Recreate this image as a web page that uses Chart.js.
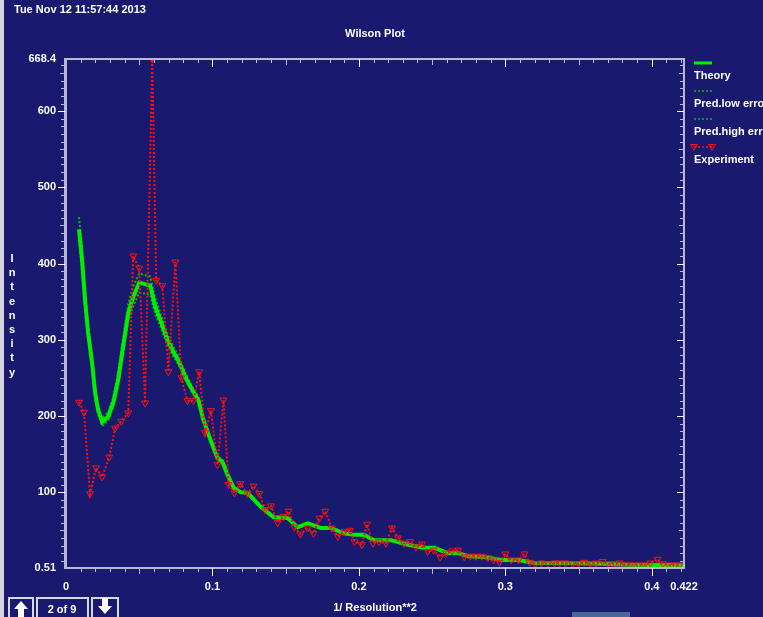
<!DOCTYPE html>
<html>
<head>
<meta charset="utf-8">
<title>Wilson Plot</title>
<script src="https://cdn.jsdelivr.net/npm/chart.js@4.4.0/dist/chart.umd.min.js"></script>
<style>
  html, body { margin: 0; padding: 0; background: #191970; overflow: hidden; }
  #wrap { position: relative; width: 763px; height: 617px; }
</style>
</head>
<body>
<div id="wrap"><canvas id="wilson" width="763" height="617"></canvas></div>
<script>
// data
const theoryX = [0.0089, 0.011, 0.013, 0.0151, 0.0178, 0.0199, 0.0219, 0.0247, 0.0288, 0.0322,
  0.0356, 0.039, 0.0425, 0.0459, 0.05, 0.0575, 0.061, 0.0644, 0.0692, 0.0733,
  0.0767, 0.0815, 0.0863, 0.0904, 0.0938, 0.0986, 0.1034, 0.1068, 0.1103, 0.1144,
  0.1192, 0.124, 0.1329, 0.1418, 0.1514, 0.1582, 0.1651, 0.174, 0.1808, 0.1897,
  0.1966, 0.2034, 0.2103, 0.2219, 0.2336, 0.2445, 0.2514, 0.261, 0.2678, 0.2747,
  0.2856, 0.2973, 0.3089, 0.3199, 0.3432, 0.3658, 0.3884, 0.4116, 0.4219];
const theory = [445, 404, 352, 309, 270, 230, 208, 192, 199, 217,
  247, 291, 335, 356, 375, 371, 343, 326, 300, 284,
  273, 251, 234, 221, 195, 169, 145, 140, 123, 106,
  100, 99, 81, 67, 66, 54, 59, 53, 53, 46,
  44, 44, 37, 37, 31, 27, 27, 20, 20, 16,
  15, 11, 11, 7, 7, 6, 4.5, 4.5, 4];
const predHigh = [461, 418, 364, 319, 279, 238, 214, 197, 205, 224,
  256, 302, 347, 370, 387, 383, 354, 335, 308, 291,
  279, 256, 238, 225, 198, 172, 147, 142, 125, 108,
  101, 100, 82, 68, 67, 55, 60, 54, 54, 47,
  45, 45, 38, 38, 32, 28, 28, 21, 21, 16.5,
  15.5, 11.5, 11.5, 7.3, 7.3, 6.2, 4.7, 4.7, 4.2];
const predLow = [431, 391, 341, 300, 262, 223, 202, 187, 194, 211,
  239, 281, 324, 344, 362, 359, 333, 318, 293, 278,
  268, 247, 230, 218, 192, 166, 143, 138, 121, 104,
  99, 98, 80, 66, 65, 53, 58, 52, 52, 45,
  43, 43, 36, 36, 30, 26, 26, 19, 19, 15.5,
  14.5, 10.5, 10.5, 6.7, 6.7, 5.8, 4.3, 4.3, 3.8];

const expX = [0.0089, 0.0123, 0.0164, 0.0205, 0.0247, 0.0295, 0.0336, 0.0377, 0.0425, 0.0459,
  0.050, 0.054, 0.0589, 0.0616, 0.0658, 0.0699, 0.0747, 0.0788, 0.0829, 0.087,
  0.091, 0.095, 0.099, 0.1034, 0.1075, 0.111, 0.115, 0.119, 0.124, 0.128,
  0.132, 0.136, 0.140, 0.1445, 0.1486, 0.152, 0.156, 0.160, 0.165, 0.169,
  0.173, 0.177, 0.1815, 0.1856, 0.190, 0.194, 0.197, 0.202, 0.2055, 0.2096,
  0.2137, 0.2185, 0.2226, 0.2267, 0.2308, 0.235, 0.239, 0.243, 0.247, 0.251,
  0.2555, 0.2596, 0.2637, 0.2678, 0.272, 0.276, 0.280, 0.284, 0.288, 0.292,
  0.296, 0.300, 0.304, 0.309, 0.313, 0.3165, 0.3205, 0.3247, 0.329, 0.3336,
  0.337, 0.341, 0.346, 0.350, 0.354, 0.358, 0.362, 0.3664, 0.3705, 0.3747,
  0.378, 0.382, 0.387, 0.391, 0.395, 0.399, 0.404, 0.4075, 0.4116, 0.4158, 0.419];
const experiment = [218, 205, 98, 132, 120, 146, 184, 193, 204, 410,
  394, 217, 668.4, 378, 371, 258, 402, 250, 220, 220,
  258, 178, 207, 136, 221, 110, 99, 111, 98, 108,
  98, 77, 82, 60, 68, 75, 54, 45, 53, 46,
  66, 75, 53, 42, 48, 50, 35, 31, 58, 33,
  35, 33, 53, 40, 33, 35, 28, 32, 22, 24,
  15, 20, 23, 24, 15, 16, 16, 16, 14, 11,
  8, 19, 11, 11, 19, 8, 6, 7, 6, 7,
  7, 7, 6, 6, 8, 6, 7, 9, 6, 6,
  7, 4.5, 4.5, 4.5, 4.5, 7, 12, 6, 4.5, 4.5, 4.5];

const seriesNames = ['Theory', 'Pred.low error', 'Pred.high error', 'Experiment'];
const xTicks = [0, 0.1, 0.2, 0.3, 0.4, 0.422];
const yTicks = [0.51, 100, 200, 300, 400, 500, 600, 668.4];

const BG = '#191970';
const FRAME = '#b8b8d4';
const GREEN = '#00ee00';
const GREEN_DOT = '#00c000';
const RED = '#ff1010';
const FONT = 'bold 11px "Liberation Sans", Arial, sans-serif';

function pts(xs, ys) {
  return xs.map((x, i) => ({ x: x, y: ys[i] }));
}

// frame, minor ticks, titles, legend and page furniture
const decorations = {
  id: 'decorations',
  beforeDraw(chart) {
    const ctx = chart.ctx;
    ctx.save();
    ctx.fillStyle = BG;
    ctx.fillRect(0, 0, chart.width, chart.height);
    ctx.fillStyle = '#d4d4de';
    ctx.fillRect(0, 0, 4, chart.height);
    ctx.restore();
  },
  afterDraw(chart) {
    const ctx = chart.ctx;
    const a = chart.chartArea;
    const xs = chart.scales.x, ys = chart.scales.y;
    ctx.save();

    // axis frame
    ctx.strokeStyle = FRAME;
    ctx.lineWidth = 2;
    ctx.strokeRect(a.left, a.top, a.right - a.left, a.bottom - a.top);
    ctx.fillStyle = FRAME;
    ctx.fillRect(a.left - 2, a.top - 1, 3, a.bottom - a.top + 2);

    // y ticks: outside on the left, inside on the right
    ctx.lineWidth = 1;
    for (let i = 1; i <= 66; i++) {
      const py = Math.round(ys.getPixelForValue(i * 10)) + 0.5;
      const len = i % 10 === 0 ? 7 : (i % 5 === 0 ? 5 : 4);
      ctx.strokeStyle = i % 10 === 0 ? '#ffffff' : FRAME;
      ctx.beginPath();
      ctx.moveTo(a.left - 1, py); ctx.lineTo(a.left - 1 - len, py);
      ctx.moveTo(a.right, py); ctx.lineTo(a.right - len, py);
      ctx.stroke();
    }
    // x ticks: outside at the bottom, inside at the top
    for (let i = 1; i <= 42; i++) {
      const px = Math.round(xs.getPixelForValue(i / 100)) + 0.5;
      const len = i % 10 === 0 ? 8 : (i % 5 === 0 ? 6 : 4);
      ctx.strokeStyle = i % 10 === 0 ? '#ffffff' : FRAME;
      ctx.beginPath();
      ctx.moveTo(px, a.bottom); ctx.lineTo(px, a.bottom + len);
      ctx.moveTo(px, a.top); ctx.lineTo(px, a.top + len);
      ctx.stroke();
    }

    // texts
    ctx.fillStyle = '#ffffff';
    ctx.font = FONT;
    ctx.textBaseline = 'middle';
    ctx.textAlign = 'left';
    ctx.fillText('Tue Nov 12 11:57:44 2013', 14, 10);
    ctx.textAlign = 'center';
    ctx.fillText('Wilson Plot', 375, 34);
    ctx.fillText('1/ Resolution**2', 375, 608);
    'Intensity'.split('').forEach((ch, i) => {
      ctx.fillText(ch, 12, 259 + i * 14.2);
    });

    // legend: sample above, label below
    ctx.textAlign = 'left';
    const ds = chart.data.datasets;
    ds.forEach((d, i) => {
      const sy = 63 + i * 28;
      ctx.strokeStyle = d.borderColor;
      ctx.lineWidth = d.borderWidth > 2 ? 3 : 1.5;
      ctx.setLineDash(d.borderDash || []);
      ctx.beginPath();
      ctx.moveTo(694, sy); ctx.lineTo(712, sy);
      ctx.stroke();
      ctx.setLineDash([]);
      if (d.pointRadius > 0) {
        [694, 712].forEach(px => {
          ctx.beginPath();
          ctx.moveTo(px - 3.5, sy - 2.5); ctx.lineTo(px + 3.5, sy - 2.5); ctx.lineTo(px, sy + 3.5);
          ctx.closePath();
          ctx.lineWidth = 1;
          ctx.stroke();
        });
      }
      ctx.fillStyle = '#ffffff';
      ctx.fillText(d.label, 694, sy + 13);
    });

    // page buttons
    ctx.strokeStyle = '#d8d8e4';
    ctx.lineWidth = 2;
    ctx.strokeRect(9, 598, 24, 22);
    ctx.strokeRect(37, 598, 51, 22);
    ctx.strokeRect(92, 598, 26, 22);
    ctx.fillStyle = '#ffffff';
    ctx.beginPath();
    ctx.moveTo(21, 601); ctx.lineTo(28, 609); ctx.lineTo(24, 609); ctx.lineTo(24, 617);
    ctx.lineTo(18, 617); ctx.lineTo(18, 609); ctx.lineTo(14, 609); ctx.closePath();
    ctx.fill();
    ctx.beginPath();
    ctx.moveTo(102, 598); ctx.lineTo(108, 598); ctx.lineTo(108, 606); ctx.lineTo(112, 606);
    ctx.lineTo(105, 614); ctx.lineTo(98, 606); ctx.lineTo(102, 606); ctx.closePath();
    ctx.fill();
    ctx.textAlign = 'center';
    ctx.fillText('2 of 9', 62, 610);
    ctx.fillStyle = '#4a6894';
    ctx.fillRect(572, 612, 58, 5);

    ctx.restore();
  }
};

const tickFont = { family: '"Liberation Sans", Arial, sans-serif', size: 11, weight: 'bold' };

new Chart(document.getElementById('wilson'), {
  type: 'scatter',
  data: {
    datasets: [
      {
        label: seriesNames[0],
        data: pts(theoryX, theory),
        showLine: true,
        borderColor: GREEN,
        backgroundColor: GREEN,
        borderWidth: 4,
        pointRadius: 0,
        order: 3
      },
      {
        label: seriesNames[1],
        data: pts(theoryX, predLow),
        showLine: true,
        borderColor: GREEN_DOT,
        borderWidth: 2,
        borderDash: [2, 2],
        pointRadius: 0,
        order: 4
      },
      {
        label: seriesNames[2],
        data: pts(theoryX, predHigh),
        showLine: true,
        borderColor: GREEN_DOT,
        borderWidth: 2,
        borderDash: [2, 2],
        pointRadius: 0,
        order: 4
      },
      {
        label: seriesNames[3],
        data: pts(expX, experiment),
        showLine: true,
        borderColor: RED,
        backgroundColor: 'rgba(0,0,0,0)',
        borderWidth: 2,
        borderDash: [2, 2],
        pointStyle: 'triangle',
        rotation: 180,
        pointRadius: 4,
        pointBorderWidth: 1,
        order: 1
      }
    ]
  },
  options: {
    responsive: false,
    animation: false,
    events: [],
    layout: { padding: { top: 59, right: 79, bottom: 0, left: 0 } },
    plugins: {
      legend: { display: false },
      title: { display: false },
      tooltip: { enabled: false }
    },
    scales: {
      x: {
        type: 'linear',
        min: 0,
        max: 0.422,
        grid: { display: false, drawTicks: false },
        border: { display: false },
        afterBuildTicks: s => { s.ticks = xTicks.map(v => ({ value: v })); },
        afterFit: s => { s.height = 49; },
        ticks: {
          autoSkip: false,
          maxRotation: 0,
          padding: 12,
          color: '#ffffff',
          font: tickFont,
          callback: v => String(v)
        }
      },
      y: {
        type: 'linear',
        min: 0.51,
        max: 668.4,
        grid: { display: false, drawTicks: false },
        border: { display: false },
        afterBuildTicks: s => { s.ticks = yTicks.map(v => ({ value: v })); },
        afterFit: s => { s.width = 66; },
        ticks: {
          autoSkip: false,
          padding: 10,
          color: '#ffffff',
          font: tickFont,
          callback: v => String(v)
        }
      }
    }
  },
  plugins: [decorations]
});
</script>
</body>
</html>
